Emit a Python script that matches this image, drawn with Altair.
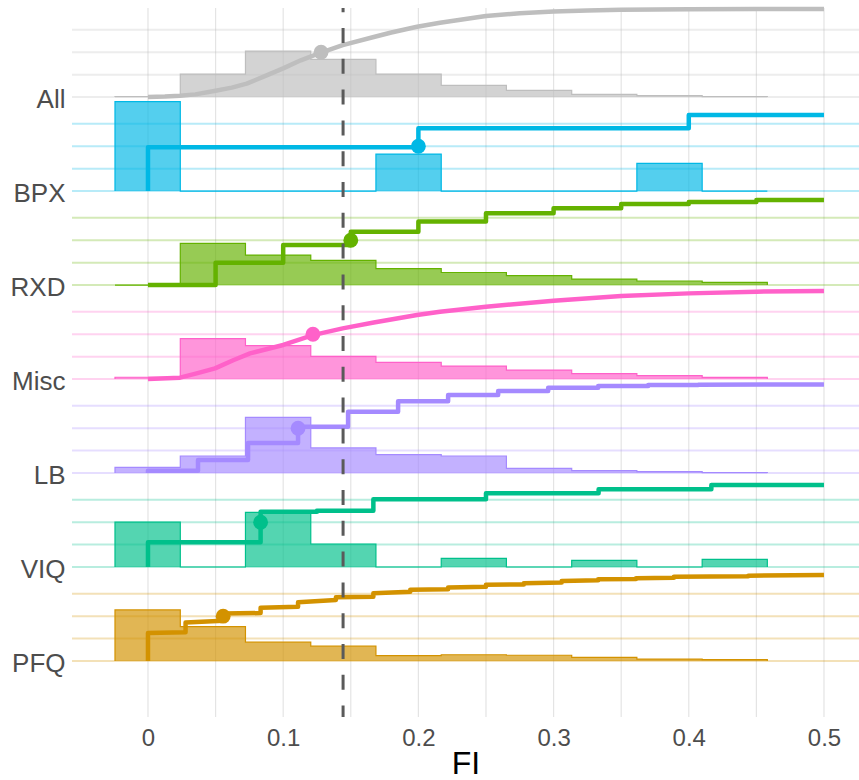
import json

import altair as alt
import pandas as pd

# ---- data -----------------------------------------------------------------
groups = ["All", "BPX", "RXD", "Misc", "LB", "VIQ", "PFQ"]
colors = ["#BEBEBE", "#00B8E5", "#64B200", "#FF61C9", "#A58AFF", "#00C08B", "#D39200"]

# histogram bin edges on the FI axis
bin_edges = [-0.0244, 0.0239, 0.0721, 0.1204, 0.1686, 0.2169,
             0.2651, 0.3134, 0.3616, 0.4099, 0.4581]

# bar heights per bin (same units as the cumulative curves)
hist_all = [0.005, 0.257, 0.513, 0.42, 0.257, 0.13, 0.075, 0.03, 0.015, 0.005]
hist_bpx = [0.997, 0.0, 0.0, 0.0, 0.413, 0.0, 0.0, 0.0, 0.31, 0.0]
hist_rxd = [0.0, 0.465, 0.335, 0.276, 0.183, 0.14, 0.104, 0.067, 0.045, 0.03]
hist_misc = [0.02, 0.45, 0.372, 0.253, 0.185, 0.145, 0.10, 0.06, 0.037, 0.019]
hist_lb = [0.063, 0.19, 0.62, 0.28, 0.205, 0.19, 0.052, 0.026, 0.015, 0.004]
hist_viq = [0.50, 0.0, 0.61, 0.257, 0.0, 0.097, 0.0, 0.075, 0.0, 0.086]
hist_pfq = [0.57, 0.383, 0.21, 0.165, 0.06, 0.07, 0.064, 0.04, 0.022, 0.015]

# cumulative distribution vertices (FI, cumulative share)
ecdf_all_x = [0, 0.0125, 0.0237, 0.035, 0.05, 0.062, 0.073, 0.086, 0.1, 0.113, 0.127,
              0.144, 0.167, 0.18, 0.199, 0.216, 0.25, 0.275, 0.3, 0.325, 0.35, 0.4, 0.45, 0.5]
ecdf_all_f = [0, 0.005, 0.015, 0.03, 0.07, 0.105, 0.15, 0.23, 0.32, 0.41, 0.49,
              0.58, 0.67, 0.72, 0.785, 0.83, 0.905, 0.935, 0.955, 0.967, 0.975, 0.98, 0.982, 0.982]

ecdf_bpx_x = [0, 0, 0.2, 0.2, 0.4, 0.4, 0.5]
ecdf_bpx_f = [0, 0.488, 0.488, 0.70, 0.70, 0.85, 0.85]

ecdf_rxd_x = [0, 0.05, 0.05, 0.1, 0.1, 0.15, 0.15, 0.2, 0.2, 0.25, 0.25,
              0.3, 0.3, 0.35, 0.35, 0.4, 0.4, 0.45, 0.45, 0.5]
ecdf_rxd_f = [0, 0, 0.249, 0.249, 0.446, 0.446, 0.595, 0.595, 0.71, 0.71, 0.80,
              0.80, 0.856, 0.856, 0.904, 0.904, 0.926, 0.926, 0.949, 0.949]

ecdf_misc_x = [0, 0.0237, 0.036, 0.0496, 0.063, 0.0755, 0.1, 0.122, 0.144, 0.167,
               0.199, 0.216, 0.25, 0.3, 0.35, 0.4, 0.45, 0.5]
ecdf_misc_f = [0, 0.015, 0.063, 0.119, 0.21, 0.287, 0.38, 0.49, 0.565, 0.63,
               0.715, 0.752, 0.807, 0.874, 0.926, 0.956, 0.975, 0.982]

ecdf_lb_x = [0, 0, 0.037, 0.037, 0.074, 0.074, 0.111, 0.111, 0.148, 0.148, 0.185, 0.185,
             0.222, 0.222, 0.259, 0.259, 0.296, 0.296, 0.333, 0.333, 0.370, 0.370,
             0.407, 0.407, 0.5]
ecdf_lb_f = [0, 0.026, 0.026, 0.145, 0.145, 0.335, 0.335, 0.517, 0.517, 0.684, 0.684, 0.80,
             0.80, 0.87, 0.87, 0.915, 0.915, 0.952, 0.952, 0.971, 0.971, 0.982,
             0.982, 0.986, 0.988]

ecdf_viq_x = [0, 0, 0.0833, 0.0833, 0.125, 0.125, 0.1667, 0.1667, 0.25, 0.25,
              0.3333, 0.3333, 0.4167, 0.4167, 0.5]
ecdf_viq_f = [0, 0.275, 0.275, 0.617, 0.617, 0.627, 0.627, 0.756, 0.756, 0.822,
              0.822, 0.867, 0.867, 0.915, 0.915]

ecdf_pfq_x = [0, 0, 0.0278, 0.0278, 0.0556, 0.0556, 0.0833, 0.0833, 0.111, 0.111,
              0.139, 0.139, 0.1667, 0.1667, 0.194, 0.194, 0.222, 0.222, 0.25, 0.25,
              0.278, 0.278, 0.306, 0.306, 0.333, 0.333, 0.361, 0.361, 0.389, 0.389,
              0.444, 0.444, 0.5]
ecdf_pfq_f = [0, 0.312, 0.32, 0.43, 0.45, 0.53, 0.535, 0.595, 0.606, 0.655,
              0.68, 0.711, 0.718, 0.755, 0.773, 0.795, 0.80, 0.82, 0.83, 0.85,
              0.855, 0.867, 0.875, 0.893, 0.90, 0.912, 0.915, 0.923, 0.93, 0.941,
              0.947, 0.952, 0.96]

# median FI per group (drawn at cumulative share 0.5)
median_fi = [0.128, 0.2, 0.15, 0.122, 0.111, 0.0833, 0.0556]
threshold_fi = 0.1443

tick_values = [0, 0.1, 0.2, 0.3, 0.4, 0.5]
grid_values = [0, 0.05, 0.1, 0.15, 0.2, 0.25, 0.3, 0.35, 0.4, 0.45, 0.5]
ridge_levels = [0, 0.25, 0.5, 0.75]

# ---- tables ---------------------------------------------------------------
RIDGE_STEP = 1.049
n = len(groups)
offset = {g: (n - 1 - i) * RIDGE_STEP for i, g in enumerate(groups)}
hist = dict(zip(groups, [hist_all, hist_bpx, hist_rxd, hist_misc, hist_lb, hist_viq, hist_pfq]))
ecdf = dict(zip(groups, [
    (ecdf_all_x, ecdf_all_f), (ecdf_bpx_x, ecdf_bpx_f), (ecdf_rxd_x, ecdf_rxd_f),
    (ecdf_misc_x, ecdf_misc_f), (ecdf_lb_x, ecdf_lb_f), (ecdf_viq_x, ecdf_viq_f),
    (ecdf_pfq_x, ecdf_pfq_f)]))

area_rows, outline_rows, curve_rows, level_rows, median_rows = [], [], [], [], []
for gi, g in enumerate(groups):
    b = offset[g]
    h = hist[g]
    for k in range(len(h)):
        area_rows.append(dict(group=g, fi=bin_edges[k], yv=b + h[k], yb=b))
    area_rows.append(dict(group=g, fi=bin_edges[-1], yv=b + h[-1], yb=b))

    pts = [(bin_edges[0], 0.0)] + [(bin_edges[k], h[k]) for k in range(len(h))]
    pts += [(bin_edges[-1], h[-1]), (bin_edges[-1], 0.0)]
    for o, (x, v) in enumerate(pts):
        outline_rows.append(dict(group=g, fi=x, yv=b + v, ord=o))

    xs_, fs_ = ecdf[g]
    for o, (x, v) in enumerate(zip(xs_, fs_)):
        curve_rows.append(dict(group=g, fi=x, yv=b + v, ord=o))

    for lv in ridge_levels:
        level_rows.append(dict(group=g, yv=b + lv))
    median_rows.append(dict(group=g, fi=median_fi[gi], yv=b + 0.5))

area_df = pd.DataFrame(area_rows)
outline_df = pd.DataFrame(outline_rows)
curve_df = pd.DataFrame(curve_rows)
level_df = pd.DataFrame(level_rows)
median_df = pd.DataFrame(median_rows)
grid_df = pd.DataFrame({"fi": grid_values})
thr_df = pd.DataFrame({"fi": [threshold_fi]})

# ---- encodings ------------------------------------------------------------
FONT = "Liberation Sans"
x_scale = alt.Scale(domain=[-0.0562, 0.5259], nice=False, zero=False)
y_scale = alt.Scale(domain=[-0.625, 7.288], nice=False, zero=False)
c_scale = alt.Scale(domain=groups, range=colors)

x_axis = alt.Axis(values=tick_values, format="~g", title="FI", grid=False, ticks=False,
                  tickSize=0, domain=False, labelFont=FONT, labelFontSize=24,
                  labelColor="#4D4D4D", labelPadding=9, labelFlush=False,
                  titleFont=FONT, titleFontSize=32, titleFontWeight="normal",
                  titleColor="#000000", titleBaseline="alphabetic", titleY=56)
label_expr = json.dumps(list(reversed(groups))) + f"[round(datum.value / {RIDGE_STEP})]"
y_axis = alt.Axis(values=[offset[g] for g in groups], labelExpr=label_expr, title=None,
                  grid=False, ticks=False, tickSize=0, domain=False, labelFont=FONT,
                  labelFontSize=26, labelColor="#4D4D4D", labelPadding=7,
                  labelBaseline="middle", labelAlign="right", labelOffset=2)

X = alt.X("fi:Q", scale=x_scale, axis=x_axis)
Y = alt.Y("yv:Q", scale=y_scale, axis=y_axis, stack=False)
C = alt.Color("group:N", scale=c_scale, legend=None)

vgrid = alt.Chart(grid_df).mark_rule(color="#E4E4E4", strokeWidth=1.2).encode(x=X)

levels = alt.Chart(level_df).mark_rule(strokeWidth=2, opacity=0.28).encode(y=Y, color=C)

bars = alt.Chart(area_df).mark_area(interpolate="step-after", opacity=0.67).encode(
    x=X, y=Y, y2="yb:Q", color=C, detail="group:N")

outline = alt.Chart(outline_df).mark_line(interpolate="step-after", strokeWidth=1.2).encode(
    x=X, y=Y, color=C, detail="group:N", order="ord:Q")

curves = alt.Chart(curve_df).mark_line(strokeWidth=4.5, strokeJoin="round", strokeCap="butt").encode(
    x=X, y=Y, color=C, detail="group:N", order="ord:Q")

medians = alt.Chart(median_df).mark_circle(size=220, opacity=1).encode(x=X, y=Y, color=C)

threshold = alt.Chart(thr_df).mark_rule(
    color="#5A5A5A", strokeWidth=3, strokeDash=[15, 15.8], strokeDashOffset=10.8
).encode(x=X, y=alt.value(0), y2=alt.value(709))

chart = alt.layer(vgrid, levels, bars, outline, curves, medians, threshold).properties(
    width=787,
    height=709,
    padding={"left": 72, "top": 8, "right": 0, "bottom": 63},
    autosize=alt.AutoSizeParams(type="none"),
    background="#FFFFFF",
).configure_view(strokeWidth=0)

chart.save("out.html", embed_options={"renderer": "svg", "actions": False})
